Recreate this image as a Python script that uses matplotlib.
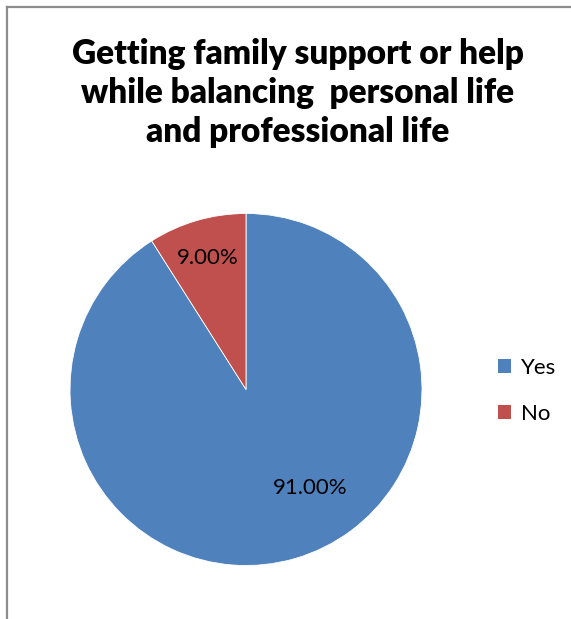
import numpy as np
import matplotlib
matplotlib.use("Agg")
import matplotlib.pyplot as plt
from matplotlib.lines import Line2D
from matplotlib.patches import Patch

categories = ["Yes", "No"]
shares = [91.00, 9.00]
colors = ["#4F81BD", "#C0504D"]
title = "Getting family support or help\nwhile balancing  personal life\nand professional life"

plt.rcParams["font.family"] = ["Lato", "DejaVu Sans"]

W, H = 571, 619
fig = plt.figure(figsize=(W / 100, H / 100), dpi=100)

# chart frame (left and top edges)
fig.add_artist(Line2D([6.5 / W, 6.5 / W], [0, 1 - 6.5 / H], color="#8c8c8c", lw=1.6,
                      transform=fig.transFigure))
fig.add_artist(Line2D([6.5 / W, 1], [1 - 6.5 / H, 1 - 6.5 / H], color="#8c8c8c", lw=1.6,
                      transform=fig.transFigure))

cx, cy, r = 246, 389.5, 176
ax = fig.add_axes([(cx - r) / W, 1 - (cy + r) / H, 2 * r / W, 2 * r / H])
wedges, texts, autotexts = ax.pie(
    shares, colors=colors, startangle=90, counterclock=False,
    autopct="%.2f%%", pctdistance=0.7,
    wedgeprops=dict(edgecolor="white", linewidth=0.6),
    textprops=dict(fontsize=16, color="black"))
ax.set_aspect("equal")
ax.set_xlim(-1, 1)
ax.set_ylim(-1, 1)

# label placement (radius fraction, angle in degrees)
label_pos = [(0.67, -57), (0.78, 106)]
for t, (rf, ang) in zip(autotexts, label_pos):
    a = np.deg2rad(ang)
    t.set_position((rf * np.cos(a), rf * np.sin(a)))

fig.text(298 / W, 1 - 93 / H, title, ha="center", va="center", fontsize=24,
         fontweight="heavy", linespacing=1.27)

handles = [Patch(facecolor=c) for c in colors]
fig.legend(handles, categories, loc="center left", bbox_to_anchor=(478 / W, 1 - 391 / H),
           frameon=False, fontsize=16, handlelength=0.6, handleheight=0.6,
           handletextpad=0.45, labelspacing=1.15)

fig.savefig("out.png", dpi=100)
